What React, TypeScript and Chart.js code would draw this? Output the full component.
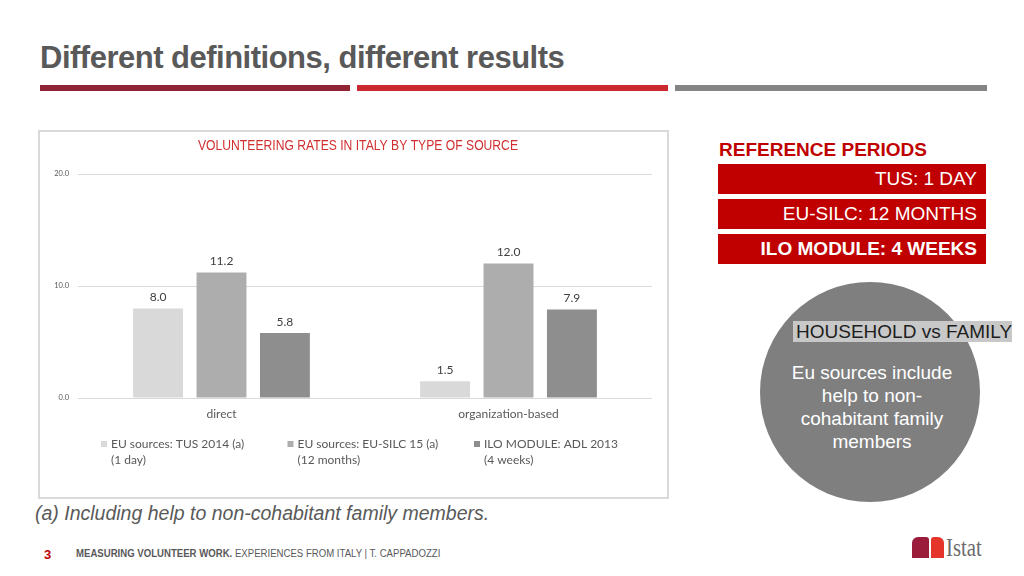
import React, { useEffect, useRef } from "react";
import { Chart, registerables } from "chart.js";

Chart.register(...registerables);

const categories = ["direct", "organization-based"];
const tusValues = [8.0, 1.5];
const silcValues = [11.2, 12.0];
const iloValues = [5.8, 7.9];
const seriesLegend = [
  ["EU sources: TUS 2014 (a)", "(1 day)"],
  ["EU sources: EU-SILC 15 (a)", "(12 months)"],
  ["ILO MODULE: ADL 2013", "(4 weeks)"],
];
const seriesColors = ["#d9d9d9", "#adadad", "#8e8e8e"];
const yMin = 0;
const yMax = 20;
const yStep = 10;
const chartTitle = "VOLUNTEERING RATES IN ITALY BY TYPE OF SOURCE";
const periods = ["TUS: 1 DAY", "EU-SILC: 12 MONTHS", "ILO MODULE: 4 WEEKS"];
const circleLines = ["Eu sources include", "help to non-", "cohabitant family", "members"];

const titlePlugin = {
  id: "narrowTitle",
  afterDraw(chart: any) {
    const ctx = chart.ctx;
    ctx.save();
    ctx.font = "15px 'Liberation Sans'";
    ctx.fillStyle = "#d0302f";
    ctx.textAlign = "center";
    ctx.textBaseline = "middle";
    const cx = chart.width / 2 + 5;
    ctx.translate(cx, 14);
    ctx.scale(0.81, 1);
    ctx.fillText(chartTitle, 0, 0);
    ctx.restore();
  },
};

const valueLabelPlugin = {
  id: "valueLabels",
  afterDatasetsDraw(chart: any) {
    const ctx = chart.ctx;
    ctx.save();
    ctx.font = "12px Lato";
    ctx.fillStyle = "#404040";
    ctx.textAlign = "center";
    ctx.textBaseline = "middle";
    chart.data.datasets.forEach((ds: any, i: number) => {
      const meta = chart.getDatasetMeta(i);
      meta.data.forEach((bar: any, j: number) => {
        ctx.fillText(Number(ds.data[j]).toFixed(1), bar.x, bar.y - 11);
      });
    });
    ctx.restore();
  },
};

const legendPlugin = {
  id: "columnLegend",
  afterDraw(chart: any) {
    const { ctx, chartArea } = chart;
    ctx.save();
    ctx.font = "12px Lato";
    ctx.textAlign = "left";
    ctx.textBaseline = "middle";
    const startX = chartArea.left + 23;
    const colW = 186.5;
    const y0 = chartArea.bottom + 46;
    chart.data.datasets.forEach((ds: any, i: number) => {
      const x = startX + i * colW;
      ctx.fillStyle = ds.backgroundColor;
      ctx.fillRect(x, y0 - 3, 6, 6);
      ctx.fillStyle = "#595959";
      (ds.legendLines as string[]).forEach((line, k) => {
        ctx.fillText(line, x + 10, y0 + k * 16);
      });
    });
    ctx.restore();
  },
};

function BarChart() {
  const ref = useRef<HTMLCanvasElement | null>(null);
  useEffect(() => {
    if (!ref.current) return;
    const values = [tusValues, silcValues, iloValues];
    const chart = new Chart(ref.current, {
      type: "bar",
      data: {
        labels: categories,
        datasets: values.map((v, i) => ({
          label: seriesLegend[i].join(" "),
          legendLines: seriesLegend[i],
          data: v,
          backgroundColor: seriesColors[i],
          borderWidth: 0,
          categoryPercentage: 0.663,
          barPercentage: 0.787,
        })) as any,
      },
      options: {
        responsive: false,
        maintainAspectRatio: false,
        animation: false,
        layout: { padding: { top: 42, right: 14, left: 0, bottom: 0 } },
        plugins: {
          legend: { display: false },
          title: { display: false },
          tooltip: { enabled: false },
        },
        scales: {
          x: {
            grid: { display: false, drawTicks: false },
            border: { display: false },
            ticks: { color: "#595959", font: { family: "Lato", size: 12 }, padding: 9 },
            afterFit: (s: any) => {
              s.height = 98;
            },
          },
          y: {
            min: yMin,
            max: yMax,
            grid: { color: "#d9d9d9", lineWidth: 1, drawTicks: false },
            border: { display: false },
            ticks: {
              stepSize: yStep,
              color: "#595959",
              font: { family: "Lato", size: 7.5 },
              padding: 9,
              callback: (v: any) => Number(v).toFixed(1),
            },
            afterFit: (s: any) => {
              s.width = 38;
            },
          },
        },
      },
      plugins: [titlePlugin, valueLabelPlugin, legendPlugin],
    });
    return () => chart.destroy();
  }, []);
  return <canvas ref={ref} width={626} height={364} style={{ display: "block" }} />;
}

export default function App() {
  const abs = (s: React.CSSProperties): React.CSSProperties => ({ position: "absolute", ...s });
  return (
    <div
      style={{
        position: "absolute",
        left: 0,
        top: 0,
        width: 1024,
        height: 576,
        background: "#fff",
        overflow: "hidden",
        fontFamily: "'Liberation Sans', Arial, sans-serif",
      }}
    >
      <div
        style={abs({
          left: 40,
          top: 42,
          fontSize: 31,
          lineHeight: "31px",
          fontWeight: "bold",
          color: "#595959",
          letterSpacing: "-0.5px",
          whiteSpace: "nowrap",
        })}
      >
        Different definitions, different results
      </div>
      <div style={abs({ left: 40, top: 85, width: 310, height: 6, background: "#8f2436" })} />
      <div style={abs({ left: 357, top: 85, width: 311, height: 6, background: "#c9292f" })} />
      <div style={abs({ left: 675, top: 85, width: 312, height: 6, background: "#858585" })} />

      <div
        style={abs({
          left: 38,
          top: 130,
          width: 631,
          height: 369,
          border: "2px solid #d9d9d9",
          boxSizing: "border-box",
        })}
      />
      <div style={abs({ left: 40, top: 132, width: 626, height: 364 })}>
        <BarChart />
      </div>

      <div
        style={abs({
          left: 35,
          top: 504,
          fontSize: 19.5,
          lineHeight: "19.5px",
          fontStyle: "italic",
          color: "#595959",
          whiteSpace: "nowrap",
        })}
      >
        (a) Including help to non-cohabitant family members.
      </div>

      <div
        style={abs({
          left: 719,
          top: 140,
          fontSize: 19,
          lineHeight: "19px",
          fontWeight: "bold",
          color: "#c00000",
          whiteSpace: "nowrap",
        })}
      >
        REFERENCE PERIODS
      </div>
      {periods.map((p, i) => (
        <div
          key={p}
          style={abs({
            left: 718,
            top: [164, 199, 234][i],
            width: 268,
            height: 30,
            background: "#c00000",
            color: "#fff",
            fontSize: 19,
            lineHeight: "30px",
            textAlign: "right",
            paddingRight: 9,
            boxSizing: "border-box",
            fontWeight: i === 2 ? "bold" : "normal",
            whiteSpace: "nowrap",
          })}
        >
          {p}
        </div>
      ))}

      <div
        style={abs({
          left: 760,
          top: 282,
          width: 220,
          height: 220,
          borderRadius: "50%",
          background: "#7f7f7f",
        })}
      />
      <div
        style={abs({
          left: 793,
          top: 321,
          width: 219,
          height: 21,
          background: "#c8c8c8",
          color: "#1e1e1e",
          fontSize: 19,
          lineHeight: "21px",
          paddingLeft: 3,
          boxSizing: "border-box",
          whiteSpace: "nowrap",
          overflow: "hidden",
        })}
      >
        HOUSEHOLD vs FAMILY
      </div>
      <div
        style={abs({
          left: 762,
          top: 361,
          width: 220,
          fontSize: 19,
          lineHeight: "23px",
          color: "#fff",
          textAlign: "center",
        })}
      >
        {circleLines.map((l) => (
          <div key={l}>{l}</div>
        ))}
      </div>

      <div
        style={abs({
          left: 44,
          top: 548,
          fontSize: 13,
          lineHeight: "13px",
          fontWeight: "bold",
          color: "#c00000",
        })}
      >
        3
      </div>
      <div
        style={abs({
          left: 76,
          top: 549,
          fontSize: 10,
          lineHeight: "10px",
          color: "#595959",
          whiteSpace: "nowrap",
          transform: "scaleX(0.96)",
          transformOrigin: "left center",
        })}
      >
        <b>MEASURING VOLUNTEER WORK.</b> EXPERIENCES FROM ITALY | T. CAPPADOZZI
      </div>

      <div
        style={abs({
          left: 912,
          top: 537,
          width: 17,
          height: 21,
          background: "#9b1b3b",
          borderRadius: "6px 3px 0 0",
        })}
      />
      <div
        style={abs({
          left: 931,
          top: 537,
          width: 13,
          height: 21,
          background: "#e5352b",
          borderRadius: "3px 6px 0 0",
        })}
      />
      <div
        style={abs({
          left: 946,
          top: 535,
          fontSize: 26,
          lineHeight: "26px",
          fontFamily: "'Liberation Serif', serif",
          color: "#6b6b6b",
          whiteSpace: "nowrap",
          transform: "scaleX(0.8)",
          transformOrigin: "left center",
        })}
      >
        Istat
      </div>
    </div>
  );
}
